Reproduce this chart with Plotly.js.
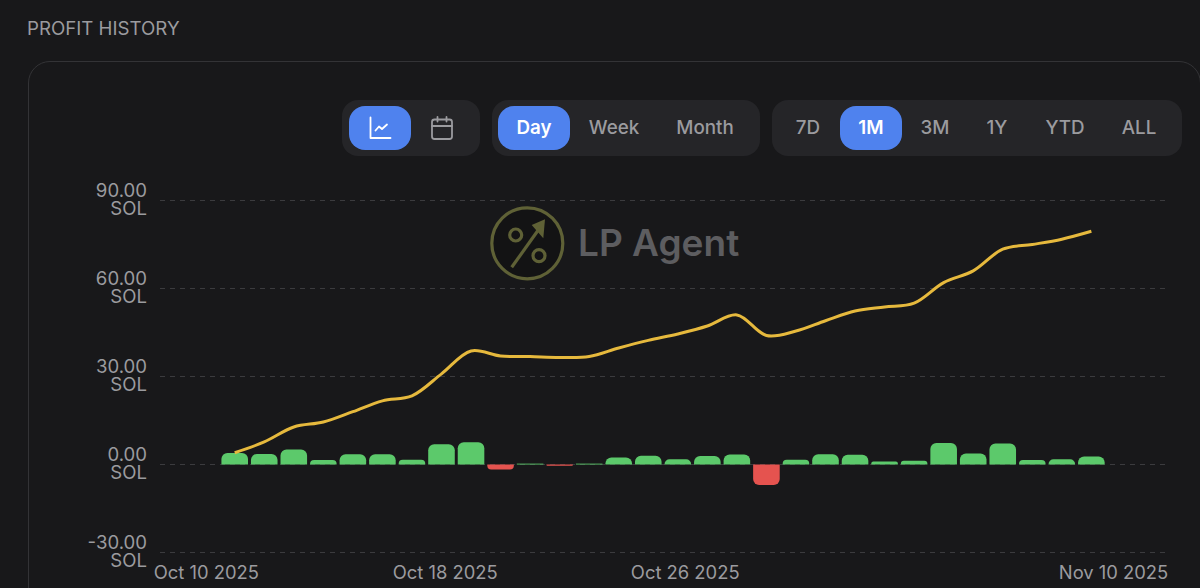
<!DOCTYPE html>
<html>
<head>
<meta charset="utf-8">
<script src="https://cdn.plot.ly/plotly-3.0.1.min.js"></script>
<style>
html,body{margin:0;padding:0;width:1200px;height:588px;overflow:hidden;background:#18181a;font-family:Inter,sans-serif}
#title{position:absolute;left:27px;top:18px;font-size:18.7px;line-height:22px;color:#9b9b9f}
#card{position:absolute;left:28px;top:61px;width:1173px;height:700px;border:1.5px solid #333336;border-radius:22px;box-sizing:border-box}
#chart{position:absolute;left:0;top:0;width:1200px;height:588px}
.grp{position:absolute;top:100px;height:56px;background:#252528;border-radius:16px}
.btn{position:absolute;top:6px;height:44px;border-radius:16px;color:#9b9b9f;font-size:18.8px;font-weight:500;line-height:44px;text-align:center}
.btn.on{background:#4f82ee;color:#fff;font-weight:600}
.btn svg{position:absolute;left:50%;top:50%;transform:translate(-50%,-50%)}
#logo{position:absolute;left:489px;top:205px}
#brand{position:absolute;left:578px;top:219px;font-size:37px;line-height:48px;font-weight:600;color:#5d5d60}
</style>
</head>
<body>
<div id="title">PROFIT HISTORY</div>
<div id="card"></div>
<svg id="logo" width="76" height="76" viewBox="0 0 76 76" fill="none">
  <circle cx="38.3" cy="38.3" r="35.5" fill="#131314" stroke="#5f6136" stroke-width="3.2"/>
  <circle cx="26.7" cy="30" r="6" stroke="#5f6136" stroke-width="3.2"/>
  <circle cx="50" cy="50.7" r="6" stroke="#5f6136" stroke-width="3.2"/>
  <path d="M22.7 62.3 L50 24" stroke="#5f6136" stroke-width="3.2"/>
  <path d="M56 14.3 L42.7 20 L54.3 33.3 Z" fill="#5f6136"/>
</svg>
<div id="brand">LP Agent</div>
<div id="chart"></div>

<div class="grp" style="left:342px;width:138px">
  <div class="btn on" style="left:7px;width:62px">
    <svg width="24" height="24" viewBox="0 0 24 24" fill="none" stroke="#fff" stroke-width="1.8" stroke-linecap="round" stroke-linejoin="round"><path d="M2.5 1.5V22H22.5"/><path d="M7.5 14.5L11 10.5L14 13L19 8.5"/></svg>
  </div>
  <div class="btn" style="left:69px;width:62px">
    <svg width="24" height="24" viewBox="0 0 24 24" fill="none" stroke="#9b9b9f" stroke-width="1.8" stroke-linecap="round" stroke-linejoin="round"><rect x="2" y="3.5" width="20" height="19.5" rx="2.5"/><path d="M2 10H22M7.5 1V5.5M16.5 1V5.5"/></svg>
  </div>
</div>
<div class="grp" style="left:492px;width:268px">
  <div class="btn on" style="left:6px;width:72px">Day</div>
  <div class="btn" style="left:86px;width:72px">Week</div>
  <div class="btn" style="left:169px;width:88px">Month</div>
</div>
<div class="grp" style="left:772px;width:410px">
  <div class="btn" style="left:5px;width:62px">7D</div>
  <div class="btn on" style="left:68px;width:62px">1M</div>
  <div class="btn" style="left:132px;width:62px">3M</div>
  <div class="btn" style="left:195px;width:60px">1Y</div>
  <div class="btn" style="left:262px;width:62px">YTD</div>
  <div class="btn" style="left:333px;width:68px">ALL</div>
</div>

<script>
const days = ['2025-10-11','2025-10-12','2025-10-13','2025-10-14','2025-10-15','2025-10-16','2025-10-17','2025-10-18','2025-10-19','2025-10-20',
  '2025-10-21','2025-10-22','2025-10-23','2025-10-24','2025-10-25','2025-10-26','2025-10-27','2025-10-28','2025-10-29','2025-10-30',
  '2025-10-31','2025-11-01','2025-11-02','2025-11-03','2025-11-04','2025-11-05','2025-11-06','2025-11-07','2025-11-08','2025-11-09'];
const dailyProfit = [3.9,3.6,5.1,1.5,3.5,3.5,1.6,6.9,7.6,-1.7,0.3,-0.4,0.3,2.4,2.95,1.8,2.9,3.4,-7.0,1.6,3.5,3.3,1.0,1.25,7.3,3.75,7.15,1.5,1.8,2.7];
const cumulativeProfit = [4.0,7.7,12.8,14.5,18.0,21.7,23.4,30.9,38.7,37.0,36.8,36.5,36.8,39.7,42.3,44.5,47.2,51.0,44.0,45.5,49.0,52.3,53.7,55.0,62.0,66.0,73.4,75.0,76.8,79.5];
const yTicks = [-30,0,30,60,90];
const yTickText = ['-30.00<br>SOL','0.00<br>SOL','30.00<br>SOL','60.00<br>SOL','90.00<br>SOL'];
const xTicks = ['2025-10-10 01:00','2025-10-18 03:00','2025-10-26 06:00','2025-11-09 18:00'];
const xTickText = ['Oct 10 2025','Oct 18 2025','Oct 26 2025','Nov 10 2025'];
const GREEN = '#5cc96b', RED = '#e5534f', GOLD = '#e6b93d';
const tickFont = {family:'Inter, sans-serif', size:18.6, color:'#9b9b9f'};
const xTickFont = {family:'Inter, sans-serif', size:18.4, color:'#9b9b9f'};

Plotly.newPlot('chart', [
  {type:'bar', x:days, y:dailyProfit, marker:{color:dailyProfit.map(v => v < 0 ? RED : GREEN), line:{width:0}}, hoverinfo:'skip'},
  {type:'scatter', mode:'lines', x:days, y:cumulativeProfit, line:{color:GOLD, width:3, shape:'spline', smoothing:1}, hoverinfo:'skip'}
], {
  width:1200, height:588,
  margin:{l:160, r:33, t:198.5, b:34, pad:0},
  paper_bgcolor:'rgba(0,0,0,0)', plot_bgcolor:'rgba(0,0,0,0)',
  showlegend:false, bargap:0.1, barcornerradius:6,
  xaxis:{type:'date', range:['2025-10-08 11:18','2025-11-11 13:27'], tickmode:'array', tickvals:xTicks, ticktext:xTickText,
    tickfont:xTickFont, showgrid:false, zeroline:false, showline:false, ticks:'', ticklabelstandoff:6, automargin:false},
  yaxis:{range:[-30.5,90.5], tickmode:'array', tickvals:yTicks, ticktext:yTickText, tickfont:tickFont,
    showgrid:true, gridcolor:'#3b3b3e', gridwidth:1, griddash:'5px,5px', zeroline:false, showline:false, ticks:'', ticklabelstandoff:12, automargin:false}
}, {displayModeBar:false, staticPlot:true}).then(function () {
  // The reference sets its two-line value labels tighter than Plotly's fixed line height.
  document.querySelectorAll('#chart .ytick text').forEach(function (label) {
    const lines = label.querySelectorAll('tspan.line');
    if (lines.length === 2) {
      lines[0].setAttribute('dy', '2px');
      lines[1].setAttribute('dy', '20px');
    }
  });
});
</script>
</body>
</html>
